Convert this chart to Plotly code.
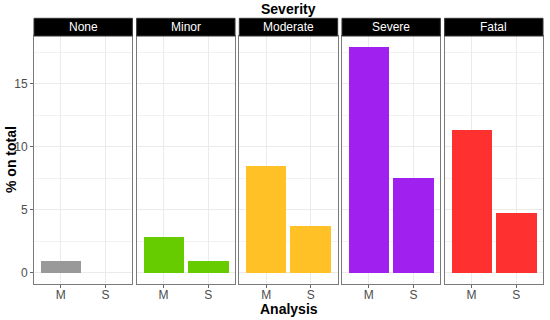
import plotly.graph_objects as go
from plotly.subplots import make_subplots

severity = ["None", "Minor", "Moderate", "Severe", "Fatal"]
analysis = ["M", "S"]
values_M = [0.93, 2.81, 8.47, 17.9, 11.33]
values_S = [0.0, 0.93, 3.73, 7.49, 4.71]
colors = ["#999999", "#66CC00", "#FFC125", "#A020F0", "#FF3030"]
y_ticks = [0, 5, 10, 15]

W, H = 550, 320
ml, mr, mt, mb = 34, 7, 36, 36
plot_w = W - ml - mr
plot_h = H - mt - mb
strip_h = 17.7

fig = make_subplots(rows=1, cols=5, shared_yaxes=True, horizontal_spacing=4.3 / plot_w)

font = "Liberation Sans, Arial, sans-serif"
ymax = max(values_M + values_S)
pad = ymax * 0.05

for i, sev in enumerate(severity):
    fig.add_trace(
        go.Bar(x=analysis, y=[values_M[i], values_S[i]], marker_color=colors[i],
               marker_line_width=0, width=0.9, showlegend=False, hoverinfo="skip"),
        row=1, col=i + 1,
    )
    xa = "x" if i == 0 else f"x{i+1}"
    ya = "y" if i == 0 else f"y{i+1}"
    fig.add_shape(type="rect", xref=f"{xa} domain", yref=f"{ya} domain",
                  x0=0, x1=1, y0=1, y1=1 + strip_h / plot_h,
                  fillcolor="black", line=dict(color="#333333", width=1))
    fig.add_annotation(xref=f"{xa} domain", yref=f"{ya} domain",
                       x=0.5, y=1 + strip_h / plot_h / 2, text=sev, showarrow=False,
                       yanchor="middle", xanchor="center",
                       font=dict(color="white", size=12, family=font))

fig.update_xaxes(type="category", range=[-0.6, 1.6], showgrid=True, gridcolor="#EBEBEB",
                 gridwidth=1, ticks="outside", ticklen=3, tickcolor="#666666", ticklabelstandoff=-3,
                 showline=True, mirror=True, linecolor="#7A7A7A", linewidth=1, automargin=False,
                 tickfont=dict(size=12, color="#4D4D4D", family=font), zeroline=False)
fig.update_yaxes(range=[-pad, ymax + pad], tickvals=y_ticks, showgrid=True, gridcolor="#EBEBEB",
                 gridwidth=1, minor=dict(dtick=2.5, tick0=0, showgrid=True, gridcolor="#F2F2F2", gridwidth=0.6),
                 ticks="outside", ticklen=3, tickcolor="#666666", automargin=False,
                 showline=True, mirror=True, linecolor="#7A7A7A", linewidth=1,
                 tickfont=dict(size=12, color="#4D4D4D", family=font), zeroline=False)
for c in range(2, 6):
    fig.update_yaxes(ticks="", row=1, col=c)

fig.add_annotation(xref="paper", yref="paper", x=0.5, y=1 + (strip_h + 9) / plot_h,
                   text="<b>Severity</b>", showarrow=False, yanchor="middle",
                   font=dict(size=14, color="black", family=font))
fig.add_annotation(xref="paper", yref="paper", x=0.5, y=-25 / plot_h,
                   text="<b>Analysis</b>", showarrow=False, yanchor="middle",
                   font=dict(size=14, color="black", family=font))
fig.add_annotation(xref="paper", yref="paper", x=-23 / plot_w, y=0.5,
                   text="<b>% on total</b>", showarrow=False, textangle=-90, xanchor="center",
                   yanchor="middle", font=dict(size=14, color="black", family=font))

fig.update_layout(width=W, height=H, margin=dict(l=ml, r=mr, t=mt, b=mb),
                  template="none", plot_bgcolor="white", paper_bgcolor="white", bargap=0)
fig.write_html("out.html", config={"displayModeBar": False},
               post_script="document.body.style.margin='0px';")
